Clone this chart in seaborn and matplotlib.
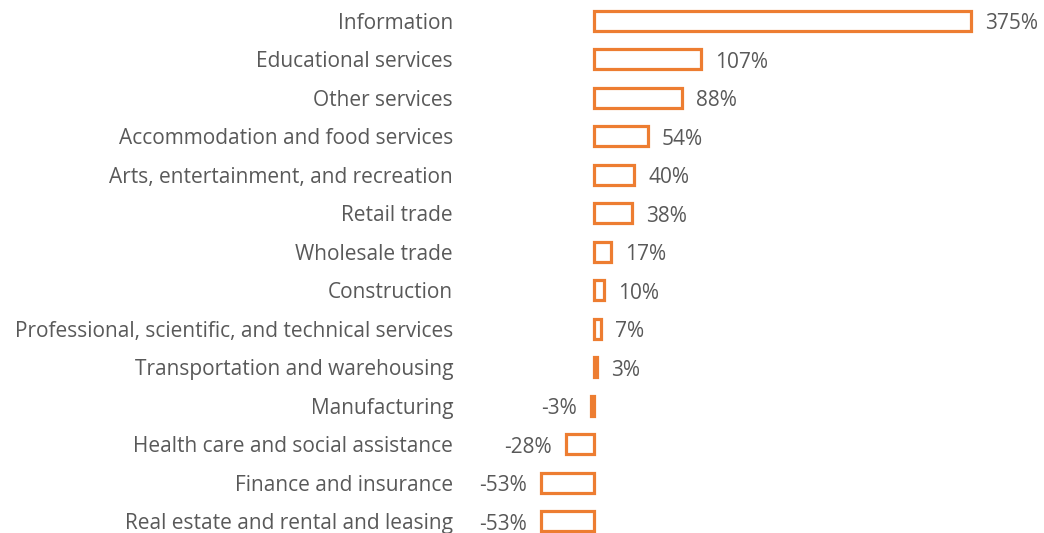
import seaborn as sns
import pandas as pd
import matplotlib.pyplot as plt

industries = [
    "Information",
    "Educational services",
    "Other services",
    "Accommodation and food services",
    "Arts, entertainment, and recreation",
    "Retail trade",
    "Wholesale trade",
    "Construction",
    "Professional, scientific, and technical services",
    "Transportation and warehousing",
    "Manufacturing",
    "Health care and social assistance",
    "Finance and insurance",
    "Real estate and rental and leasing",
]
change_pct = [375, 107, 88, 54, 40, 38, 17, 10, 7, 3, -3, -28, -53, -53]

data = pd.DataFrame({"industry": industries, "change": change_pct})

sns.set_style("white")
plt.rcParams["font.family"] = ["Open Sans", "DejaVu Sans"]

orange = "#ED7D31"
grey = "#595959"

fig = plt.figure(figsize=(10.44, 5.33), dpi=100)
ax = fig.add_axes([460 / 1044, 0, 584 / 1044, 1])

sns.barplot(data=data, x="change", y="industry", orient="h", ax=ax,
            color="white", edgecolor=orange, linewidth=2.3, width=0.52,
            saturation=1)

for c in ax.containers:
    texts = ax.bar_label(c, labels=[f"{v}%" for v in change_pct], padding=10,
                         fontsize=15, color=grey)
    for t in texts:
        # nudge down a little so the number sits on the bar's middle
        t.xyann = (t.xyann[0], -2)

ax.set_xlim(-133.3, 447.8)
ax.set_ylim(13.3, -0.545)
ax.set_xlabel("")
ax.set_ylabel("")
ax.set_xticks([])
ax.tick_params(axis="y", length=0, pad=5, labelsize=15, labelcolor=grey)
sns.despine(ax=ax, left=True, bottom=True)

fig.savefig("out.png", dpi=100)
